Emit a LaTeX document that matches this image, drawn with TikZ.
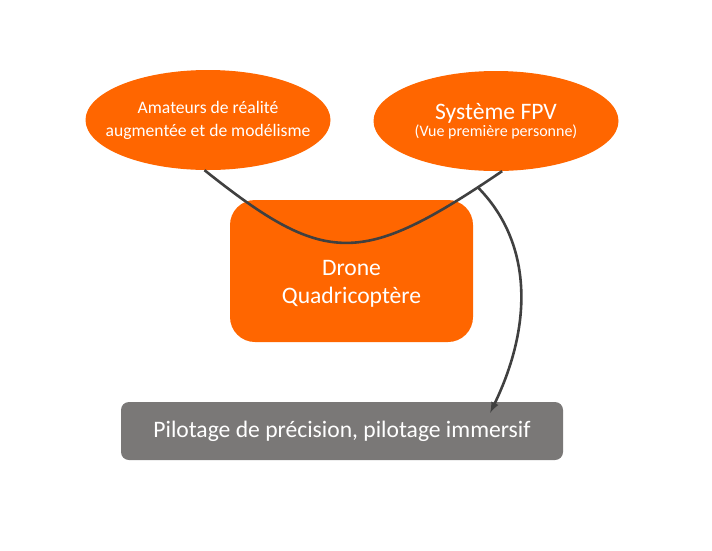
\documentclass[tikz,border=0pt]{standalone}
\usepackage{fontspec}
\setmainfont{Carlito}
\usepackage{tikz}
\usetikzlibrary{arrows,shapes.geometric}

\definecolor{orangefpv}{RGB}{255,102,0}
\definecolor{grisbox}{RGB}{122,120,119}
\definecolor{grisfil}{RGB}{64,64,64}

\tikzset{
  bulle/.style={ellipse,fill=orangefpv,minimum width=245pt,minimum height=100pt,inner xsep=-40pt,inner ysep=0pt,text=white,align=center},
  dronebox/.style={rectangle,rounded corners=25pt,fill=orangefpv,minimum width=243pt,minimum height=142pt},
  usagebox/.style={rectangle,rounded corners=8pt,fill=grisbox,minimum width=442pt,minimum height=58pt,text=white,font=\fontsize{23.6}{28}\selectfont},
  fil/.style={grisfil,line width=2.6pt}
}

\begin{document}
\begin{tikzpicture}[x=1pt,y=-1pt]
\useasboundingbox (0,0) rectangle (712,550);

\node [bulle,font=\fontsize{17.6}{23}\selectfont] (amateurs) at (208,120) {Amateurs de réalité\\augmentée et de modélisme};
\node [bulle] (fpv) at (496,121) {{\fontsize{23.6}{24}\selectfont Système FPV}\\{\fontsize{16}{20}\selectfont (Vue première personne)}};

\node [dronebox,label={[text=white,align=center,font=\fontsize{23.6}{28}\selectfont,yshift=-13pt]center:Drone\\Quadricoptère}] (drone) at (351.5,271) {};

\node [usagebox] (pilotage) at (342,431) {Pilotage de précision, pilotage immersif};
\coordinate (cible) at ([xshift=-73pt,yshift=-11pt]pilotage.north east);

\draw [fil] (amateurs.-94) .. controls (326,267) and (361,267) .. coordinate[pos=0.94] (jonction) (fpv.-83);
\draw [fil,-latex] (jonction) .. controls (530,240) and (535,320) .. (cible);
\end{tikzpicture}
\end{document}
